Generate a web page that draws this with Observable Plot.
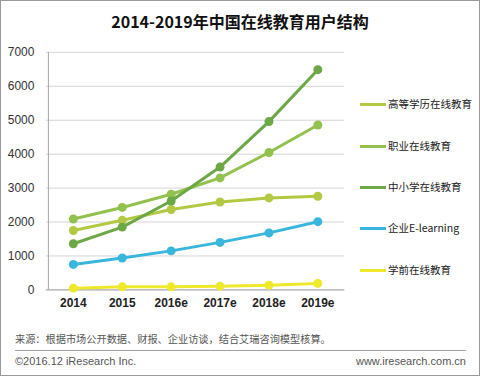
<!DOCTYPE html>
<html>
<head>
<meta charset="utf-8">
<script src="https://cdn.jsdelivr.net/npm/d3@7"></script>
<script src="https://cdn.jsdelivr.net/npm/@observablehq/plot@0.6"></script>
<style>
  html, body { margin: 0; padding: 0; background: #fff; }
  #frame { position: relative; width: 478px; height: 374px; border: 1px solid #9a9a9a; overflow: hidden;
    font-family: "Noto Sans CJK SC", "Noto Sans", sans-serif; }
  #title { position: absolute; left: 0; width: 478px; top: 8px; text-align: center; font-size: 16px; font-weight: bold; color: #111; }
  #chart { position: absolute; left: -1px; top: -1px; }
  #legend { position: absolute; left: 359px; top: 0; }
  .item { position: absolute; left: 0; white-space: nowrap; font-size: 10.5px; color: #222; line-height: 14px; }
  .sw { display: inline-block; width: 26px; height: 3px; vertical-align: middle; margin-right: 2px; position: relative; top: -1px; }
  #source { position: absolute; left: 14px; top: 330px; font-size: 10.2px; color: #555; }
  #rule { position: absolute; left: 14px; width: 451px; top: 349px; height: 1px; background: #a0a0a0; }
  #copy { position: absolute; left: 14px; top: 354px; font-size: 11px; color: #555; font-family: "Liberation Sans", "Noto Sans", sans-serif; }
  #site { position: absolute; right: 13px; top: 354px; font-size: 11px; color: #555; font-family: "Liberation Sans", "Noto Sans", sans-serif; }
</style>
</head>
<body>
<div id="frame">
  <div id="chart"></div>
  <div id="title">2014-2019年中国在线教育用户结构</div>
  <div id="legend"></div>
  <div id="source">来源：根据市场公开数据、财报、企业访谈，结合艾瑞咨询模型核算。</div>
  <div id="rule"></div>
  <div id="copy">©2016.12 iResearch Inc.</div>
  <div id="site">www.iresearch.com.cn</div>
</div>
<script>
const years = ["2014", "2015", "2016e", "2017e", "2018e", "2019e"];
const seriesNames = ["高等学历在线教育", "职业在线教育", "中小学在线教育", "企业E-learning", "学前在线教育"];
const higherEd = [1750, 2050, 2370, 2590, 2710, 2760];
const vocational = [2090, 2430, 2820, 3300, 4050, 4860];
const k12 = [1360, 1850, 2620, 3620, 4960, 6490];
const elearning = [750, 940, 1150, 1400, 1680, 2010];
const preschool = [50, 90, 90, 110, 140, 190];
const yTicks = [0, 1000, 2000, 3000, 4000, 5000, 6000, 7000];
const colors = ["#b3c944", "#93c14e", "#6da746", "#39b6dc", "#eee92b"];

const seriesValues = [higherEd, vocational, k12, elearning, preschool];
const data = [];
seriesNames.forEach((name, i) => {
  years.forEach((yr, j) => data.push({series: name, year: yr, value: seriesValues[i][j]}));
});
const order = ["学前在线教育", "企业E-learning", "高等学历在线教育", "职业在线教育", "中小学在线教育"];

const marks = [
  Plot.gridY(yTicks, {stroke: "#d4d4d4", strokeOpacity: 1, strokeWidth: 1}),
  Plot.ruleX([years[0]], {stroke: "#a6a6a6", dx: -25}),
  Plot.ruleY([0], {stroke: "#a6a6a6"}),
  Plot.axisY(yTicks, {tickSize: 0, tickPadding: 12, fontSize: 12, fill: "#333", label: null, tickFormat: d => String(d)}),
  Plot.axisX({tickSize: 0, tickPadding: 9, fontSize: 12, fill: "#222", fontWeight: 600, label: null})
];
for (const name of order) {
  const d = data.filter(r => r.series === name);
  marks.push(Plot.line(d, {x: "year", y: "value", stroke: "series", strokeWidth: 3}));
  marks.push(Plot.dot(d, {x: "year", y: "value", fill: "series", r: 4.5}));
}

const chart = Plot.plot({
  width: 480,
  height: 320,
  marginLeft: 46,
  marginRight: 135,
  marginTop: 52,
  marginBottom: 30,
  style: {fontFamily: "'Liberation Sans', 'Noto Sans', sans-serif", background: "transparent"},
  x: {type: "point", domain: years, padding: 0.5},
  y: {domain: [0, 7000]},
  color: {domain: seriesNames, range: colors},
  marks
});
document.getElementById("chart").appendChild(chart);

const legend = document.getElementById("legend");
const legendTops = [96, 138, 179, 220, 262];
seriesNames.forEach((name, i) => {
  const item = document.createElement("div");
  item.className = "item";
  item.style.top = legendTops[i] + "px";
  item.innerHTML = `<span class="sw" style="background:${colors[i]}"></span>${name}`;
  legend.appendChild(item);
});
</script>
</body>
</html>
